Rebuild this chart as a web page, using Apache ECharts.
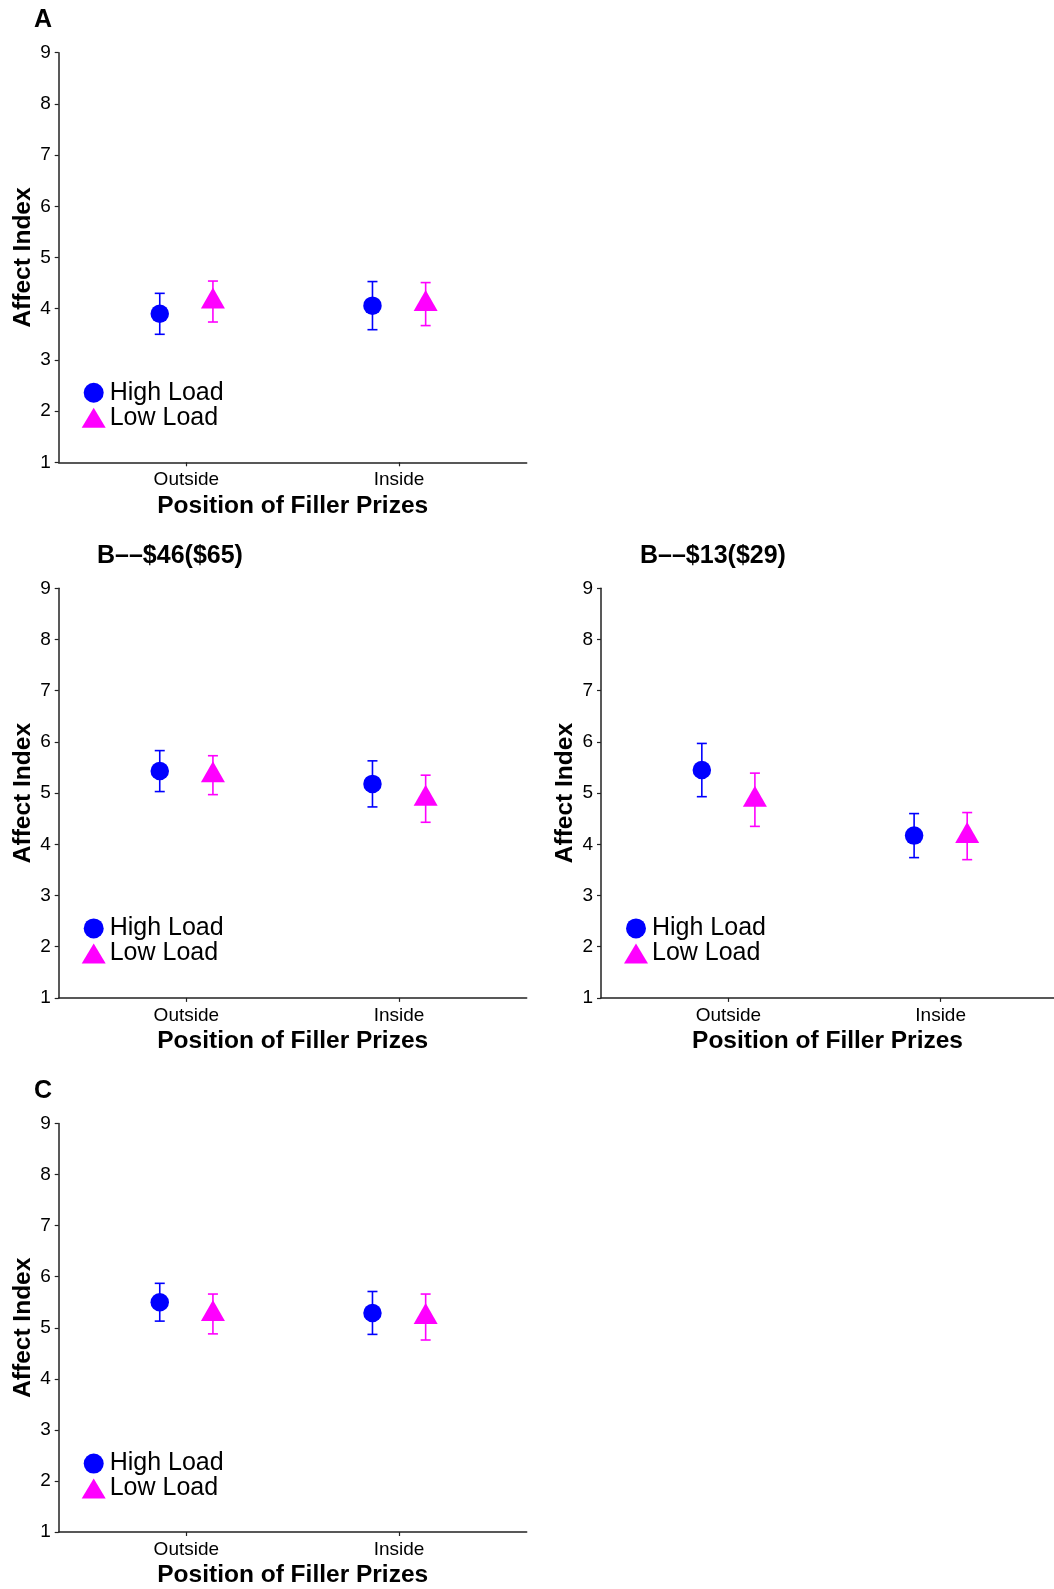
<!DOCTYPE html>
<html>
<head>
<meta charset="utf-8">
<script src="https://cdn.jsdelivr.net/npm/echarts@6/dist/echarts.min.js"></script>
<style>
html,body{margin:0;padding:0;background:#fff;}
#chart{width:1054px;height:1589px;}
</style>
</head>
<body>
<div id="chart"></div>
<script>
// ---- data ----
const categories = ['Outside', 'Inside'];
const panelTitles = ['A', 'B\u2013\u2013$46($65)', 'B\u2013\u2013$13($29)', 'C'];
const seriesNames = ['High Load', 'Low Load'];
const yTickMin = 1, yTickMax = 9, yTickStep = 1;

// Panel A
const highA = [3.90, 4.06];
const highErrA = [0.40, 0.47];
const lowA = [4.14, 4.09];
const lowErrA = [0.40, 0.42];
// Panel B ($46/$65)
const highB1 = [5.43, 5.18];
const highErrB1 = [0.40, 0.45];
const lowB1 = [5.35, 4.89];
const lowErrB1 = [0.38, 0.46];
// Panel B ($13/$29)
const highB2 = [5.45, 4.17];
const highErrB2 = [0.52, 0.43];
const lowB2 = [4.87, 4.16];
const lowErrB2 = [0.52, 0.46];
// Panel C
const highC = [5.50, 5.29];
const highErrC = [0.37, 0.42];
const lowC = [5.27, 5.21];
const lowErrC = [0.39, 0.45];

// ---- layout ----
const FONT = '"Liberation Sans", Arial, Helvetica, sans-serif';
const BLUE = '#0000ff', MAGENTA = '#ff00ff';
const panels = [
  {high: highA, highErr: highErrA, low: lowA, lowErr: lowErrA, left: 58.7, top: 52.7, width: 468, height: 409.6, xmax: 2.6, titleLeft: 34, titleTop: 8},
  {high: highB1, highErr: highErrB1, low: lowB1, lowErr: lowErrB1, left: 58.7, top: 588.3, width: 468, height: 409.6, xmax: 2.6, titleLeft: 97, titleTop: 544},
  {high: highB2, highErr: highErrB2, low: lowB2, lowErr: lowErrB2, left: 601, top: 588.3, width: 453, height: 409.6, xmax: 2.534, titleLeft: 640, titleTop: 544},
  {high: highC, highErr: highErrC, low: lowC, lowErr: lowErrC, left: 58.7, top: 1123.5, width: 468, height: 409.6, xmax: 2.6, titleLeft: 34, titleTop: 1079}
];
const OFFSET = 0.125;

const grid = [], xAxis = [], yAxis = [], series = [], title = [], legend = [];

function errRender(color) {
  return function (params, api) {
    const x = api.value(0), lo = api.value(1), hi = api.value(2);
    const pT = api.coord([x, hi]);
    const pB = api.coord([x, lo]);
    const w = 5;
    const style = {stroke: color, lineWidth: 1.6};
    return {
      type: 'group',
      children: [
        {type: 'line', shape: {x1: pT[0], y1: pT[1], x2: pB[0], y2: pB[1]}, style: style},
        {type: 'line', shape: {x1: pT[0] - w, y1: pT[1], x2: pT[0] + w, y2: pT[1]}, style: style},
        {type: 'line', shape: {x1: pB[0] - w, y1: pB[1], x2: pB[0] + w, y2: pB[1]}, style: style}
      ]
    };
  };
}

panels.forEach(function (p, i) {
  grid.push({left: p.left, top: p.top, width: p.width, height: p.height, containLabel: false});
  xAxis.push({
    type: 'value', gridIndex: i, min: 0.4, max: p.xmax,
    name: 'Position of Filler Prizes', nameLocation: 'middle', nameGap: 31,
    nameTextStyle: {fontFamily: FONT, fontSize: 24.5, fontWeight: 'bold', color: '#000'},
    axisLine: {show: true, lineStyle: {color: '#222', width: 1.5}},
    axisTick: {show: true, length: 4, customValues: [1, 2], lineStyle: {color: '#222', width: 1.2}},
    axisLabel: {customValues: [1, 2], margin: 8, fontFamily: FONT, fontSize: 19, color: '#000',
      formatter: function (v) { return categories[Math.round(v) - 1] || ''; }},
    splitLine: {show: false}
  });
  yAxis.push({
    type: 'value', gridIndex: i, min: yTickMin, max: yTickMax, interval: yTickStep,
    name: 'Affect Index', nameLocation: 'middle', nameGap: 23, nameRotate: 90,
    nameTextStyle: {fontFamily: FONT, fontSize: 24.5, fontWeight: 'bold', color: '#000'},
    axisLine: {show: true, lineStyle: {color: '#222', width: 1.5}},
    axisTick: {show: true, length: 4, lineStyle: {color: '#222', width: 1.2}},
    axisLabel: {margin: 8, fontFamily: FONT, fontSize: 19, color: '#000'},
    splitLine: {show: false}
  });
  title.push({text: panelTitles[i], left: p.titleLeft, top: p.titleTop, padding: 0,
    textStyle: {fontFamily: FONT, fontSize: 25, fontWeight: 'bold', color: '#000'}});
  legend.push({
    data: seriesNames, orient: 'vertical', left: p.left + 23, top: p.top + p.height - 82,
    padding: 0, itemGap: 0, itemWidth: 24, itemHeight: 20, selectedMode: false,
    textStyle: {fontFamily: FONT, fontSize: 25, color: '#000', lineHeight: 25, padding: [0, 0, 0, -1]}
  });
  const hiErrData = p.high.map(function (m, k) { return [k + 1 - OFFSET, m - p.highErr[k], m + p.highErr[k]]; });
  const loErrData = p.low.map(function (m, k) { return [k + 1 + OFFSET, m - p.lowErr[k], m + p.lowErr[k]]; });
  series.push({type: 'custom', xAxisIndex: i, yAxisIndex: i, renderItem: errRender(BLUE), data: hiErrData, z: 1, silent: true});
  series.push({type: 'custom', xAxisIndex: i, yAxisIndex: i, renderItem: errRender(MAGENTA), data: loErrData, z: 1, silent: true});
  series.push({
    name: seriesNames[0], type: 'scatter', xAxisIndex: i, yAxisIndex: i, z: 3,
    symbol: 'circle', symbolSize: 18.5, itemStyle: {color: BLUE, opacity: 1},
    data: p.high.map(function (m, k) { return [k + 1 - OFFSET, m]; })
  });
  series.push({
    name: seriesNames[1], type: 'scatter', xAxisIndex: i, yAxisIndex: i, z: 3,
    symbol: 'triangle', symbolSize: [24, 21], symbolOffset: [0, -3.5], itemStyle: {color: MAGENTA, opacity: 1},
    data: p.low.map(function (m, k) { return [k + 1 + OFFSET, m]; })
  });
});

const chart = echarts.init(document.getElementById('chart'), null, {renderer: 'canvas'});
chart.setOption({
  animation: false,
  backgroundColor: '#fff',
  title: title, legend: legend, grid: grid, xAxis: xAxis, yAxis: yAxis, series: series
});
</script>
</body>
</html>
